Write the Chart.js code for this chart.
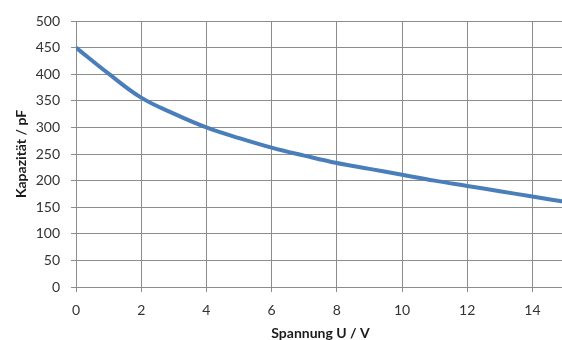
<!DOCTYPE html>
<html>
<head>
<meta charset="utf-8">
<script src="https://cdn.jsdelivr.net/npm/chart.js@4/dist/chart.umd.min.js"></script>
<style>
  html, body { margin: 0; padding: 0; background: #ffffff; overflow: hidden; }
  #wrap { width: 562px; height: 340px; overflow: hidden; }
  canvas { display: block; }
</style>
</head>
<body>
<div id="wrap"><canvas id="c" width="566" height="340"></canvas></div>
<script>
const voltages = [0, 1, 2, 3, 4, 5, 6, 7, 8, 9, 10, 11, 12, 13, 14, 15];
const capacitances = [450, 401, 356, 326, 300, 280, 262, 247, 233, 222, 211, 200, 190, 180, 170, 160];
const xTitle = 'Spannung U / V';
const yTitle = 'Kapazität / pF';

const points = voltages.map((v, i) => ({ x: v, y: capacitances[i] }));
const gridColor = '#8c8c8c';
const fontFamily = 'Lato, "Open Sans", sans-serif';

new Chart(document.getElementById('c'), {
  type: 'line',
  data: {
    datasets: [{
      data: points,
      borderColor: '#4a7ebb',
      borderWidth: 4,
      pointRadius: 0,
      tension: 0.4,
      fill: false
    }]
  },
  options: {
    responsive: false,
    animation: false,
    layout: { padding: { top: 21, right: 1, left: 0, bottom: 0 } },
    plugins: { legend: { display: false }, tooltip: { enabled: false } },
    scales: {
      x: {
        type: 'linear',
        min: 0,
        max: 15,
        afterFit: s => { s.height = 53; },
        ticks: { stepSize: 2, includeBounds: false, padding: 10, color: '#333333', font: { family: fontFamily, size: 14 } },
        grid: { color: gridColor, tickColor: gridColor, tickLength: 5, lineWidth: 1 },
        border: { color: gridColor, width: 1 },
        title: { display: true, text: xTitle, color: '#1a1a1a', padding: { top: 0, bottom: -2 }, font: { family: fontFamily, size: 14, weight: 'bold' } }
      },
      y: {
        min: 0,
        max: 500,
        afterFit: s => { s.width = 76; },
        ticks: { stepSize: 50, padding: 11, color: '#333333', font: { family: fontFamily, size: 14 } },
        grid: { color: gridColor, tickColor: gridColor, tickLength: 5, lineWidth: 1 },
        border: { color: gridColor, width: 1 },
        title: { display: true, text: yTitle, color: '#1a1a1a', padding: { top: 13, bottom: 0 }, font: { family: fontFamily, size: 14, weight: 'bold' } }
      }
    }
  }
});
</script>
</body>
</html>
